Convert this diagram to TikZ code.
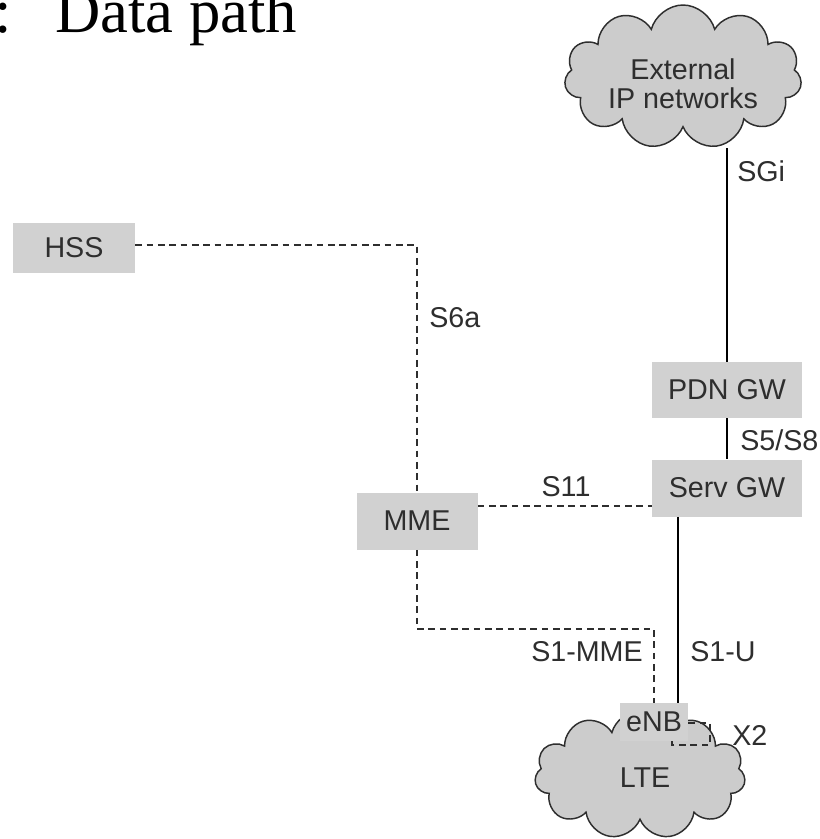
\documentclass[tikz,border=0pt]{standalone}
\usepackage{fontspec}
\setmainfont{Liberation Sans}
\newfontfamily\titlefont{Liberation Serif}
\usetikzlibrary{shapes.symbols,calc}
\definecolor{boxgray}{gray}{0.82}
\definecolor{cloudgray}{gray}{0.80}
\definecolor{ink}{gray}{0.18}
\tikzset{
  lbl/.style={font=\fontsize{21.5}{23}\selectfont, text=ink, inner sep=0pt},
  gbox/.style={fill=boxgray, draw=none, font=\fontsize{21.5}{23}\selectfont, text=ink, inner sep=0pt},
  gcloud/.style={cloud, cloud puffs=11, cloud ignores aspect, fill=cloudgray, draw=ink, line width=1.1pt, inner sep=0pt},
  dline/.style={draw=ink, line width=1.1pt, dash pattern=on 5pt off 3.5pt},
  sline/.style={draw=black, line width=1.1pt}
}
\begin{document}
\begin{tikzpicture}[x=0.75pt,y=-0.75pt]
\useasboundingbox (0,0) rectangle (820,839);
\fill[white] (0,0) rectangle (820,839);
% title (cut off at the top and left edge, as in the reference)
\node[anchor=base west, inner sep=0pt, font=\titlefont\fontsize{47}{50}\selectfont] (colon) at (-6,32) {:};
\node[anchor=base west, inner sep=0pt, font=\titlefont\fontsize{47}{50}\selectfont] (title) at (55,32) {Data path};
% clouds
\node[gcloud, minimum width=178pt, minimum height=108pt] (ext) at (683,77) {};
\node[lbl, align=center] (exttext) at (683,84) {External\\[-1pt]IP networks};
\node[gcloud, minimum width=158pt, minimum height=96pt] (lte) at (640,775) {};
\node[lbl] (ltetext) at (645,778) {LTE};
% boxes
\node[gbox, minimum width=91.5pt, minimum height=37.5pt] (hss) at (74,248) {HSS};
\node[gbox, minimum width=112.5pt, minimum height=42pt] (pdn) at (727,390) {PDN GW};
\node[gbox, minimum width=112.5pt, minimum height=42.75pt] (sgw) at (727,488) {Serv GW};
\node[gbox, minimum width=90.75pt, minimum height=42.75pt] (mme) at (417,521) {MME};
\node[gbox, minimum width=51pt, minimum height=28pt] (enb) at (654,722) {eNB};
% connectors
\coordinate (hsscorner) at (417,245);
\draw[dline] (hss.east |- hsscorner) -- (hsscorner) -- (mme.north);
\draw[sline] (pdn.north) -- (pdn.north |- 0,148);
\draw[sline] (pdn.south) -- (sgw.north);
\draw[dline] (mme.east |- 0,506) -- (sgw.west |- 0,506);
\draw[sline] (sgw.south -| 678,0) -- (enb.north -| 678,0);
\coordinate (s1corner) at (417,629);
\draw[dline] (mme.south) -- (s1corner) -| (enb.north);
\coordinate (x2a) at (710,723);
\coordinate (x2b) at (710,745);
\coordinate (x2c) at (672,745);
\draw[dline] (enb.east |- x2a) -- (x2a) -- (x2b) -- (x2c) -- (x2c |- enb.south);
% labels
\node[lbl, anchor=west] (sgi) at (737,171) {SGi};
\node[lbl, anchor=west] (s6a) at (429,318) {S6a};
\node[lbl, anchor=west] (s5s8) at (740,440) {S5/S8};
\node[lbl] (s11) at (566,487) {S11};
\node[lbl, anchor=east] (s1mme) at (643,652) {S1-MME};
\node[lbl, anchor=west] (s1u) at (690,652) {S1-U};
\node[lbl, anchor=west] (x2) at (732,735) {X2};
\end{tikzpicture}
\end{document}
